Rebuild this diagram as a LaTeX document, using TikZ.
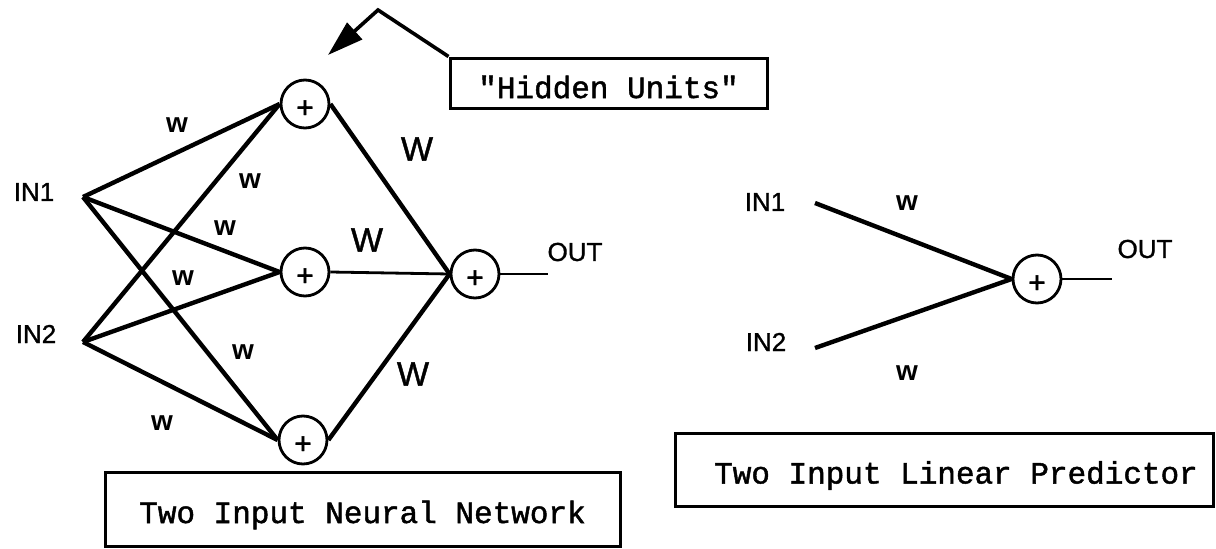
\documentclass[tikz,border=0pt]{standalone}
\usepackage{fontspec}
\setmainfont{Liberation Sans}
\newfontface\labfont{Liberation Sans}[FakeBold=1.2]
\newfontface\wfont{Liberation Sans Bold}
\newfontface\monofont{Liberation Mono}[FakeBold=1.5]
\usetikzlibrary{arrows.meta}
\begin{document}
\begin{tikzpicture}[x=1pt,y=-1pt,
  sum/.style={circle,draw,line width=2.8pt,minimum size=48pt,inner sep=0pt,
    label={[font=\labfont\fontsize{30}{30}\selectfont,yshift=-5pt,inner sep=0pt]center:+}},
  edge/.style={line width=4.4pt},
  thinedge/.style={line width=2.8pt},
  io/.style={font=\labfont\fontsize{26}{30}\selectfont,inner sep=0pt},
  lw/.style={font=\wfont\fontsize{28}{30}\selectfont,inner sep=0pt},
  uw/.style={font=\labfont\fontsize{34}{36}\selectfont,inner sep=0pt},
  capbox/.style={draw,line width=3pt,inner sep=0pt},
  captext/.style={font=\monofont\fontsize{31}{34}\selectfont,inner sep=0pt}
]
\useasboundingbox (0,0) rectangle (1216,549);

% ---------- neural network ----------
\node[io] (in1) at (34,192) {IN1};
\node[io] (in2) at (36,334) {IN2};
\coordinate (p1) at (83,197);
\coordinate (p2) at (83,342);

\node[sum] (h1) at (305,104) {};
\node[sum] (h2) at (305,272) {};
\node[sum] (h3) at (303,440) {};
\node[sum] (o)  at (475,274) {};
\coordinate (oend) at (548,274);
\node[io] (out) at (575,252) {OUT};

\draw[edge] (p1) -- (h1.west);
\draw[edge] (p1) -- (h2.west);
\draw[edge] (p1) -- (h3.west);
\draw[edge] (p2) -- (h1.west);
\draw[edge] (p2) -- (h2.west);
\draw[edge] (p2) -- (h3.west);
\draw[edge] (h1.east) -- (o.west);
\draw[thinedge] (h2.east) -- (o.west);
\draw[edge] (h3.east) -- (o.west);
\draw[thinedge] (o.east) -- (oend);

\node[lw] (w1) at (177,125) {w};
\node[lw] (w2) at (250,181) {w};
\node[lw] (w3) at (225,228) {w};
\node[lw] (w4) at (183,278) {w};
\node[lw] (w5) at (243,352) {w};
\node[lw] (w6) at (162,423) {w};
\node[uw] (W1) at (417,149) {W};
\node[uw] (W2) at (367,240) {W};
\node[uw] (W3) at (413,374) {W};

% hidden units callout
\node[capbox,minimum width=317pt,minimum height=50pt,
  label={[captext,yshift=-4pt]center:"Hidden Units"}]
  (hid) at (608.5,83) {};
\coordinate (bend) at (378,10);
\coordinate (tip) at (328,55);
\draw[line width=3.6pt,line join=miter,-{Triangle[length=36pt,width=22pt]}]
  (hid.north west) -- (bend) -- (tip);

\node[capbox,minimum width=515pt,minimum height=74pt,
  label={[captext,yshift=-6pt]center:Two Input Neural Network}]
  (nnbox) at (362.5,509) {};

% ---------- linear predictor ----------
\node[io] (rin1) at (765,202) {IN1};
\node[io] (rin2) at (766,342) {IN2};
\coordinate (q1) at (815,203);
\coordinate (q2) at (815,348);
\node[sum] (ro) at (1037,279) {};
\coordinate (roend) at (1112,279);
\node[io] (rout) at (1145,249) {OUT};
\draw[edge] (q1) -- (ro.west);
\draw[edge] (q2) -- (ro.west);
\draw[thinedge] (ro.east) -- (roend);
\node[lw] (rw1) at (907,203) {w};
\node[lw] (rw2) at (907,373) {w};

\node[capbox,minimum width=538pt,minimum height=73pt,
  label={[captext,yshift=-6pt,xshift=12pt]center:Two Input Linear Predictor}]
  (lpbox) at (944,469.5) {};
\end{tikzpicture}
\end{document}
